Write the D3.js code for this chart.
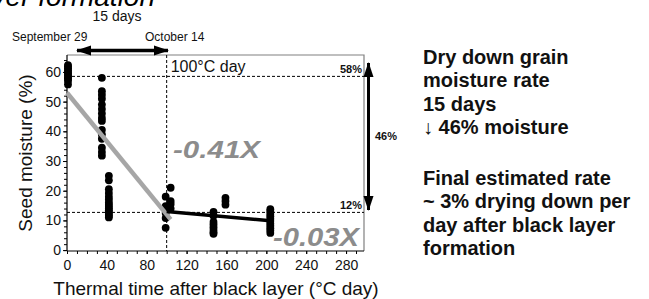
<!DOCTYPE html>
<html>
<head>
<meta charset="utf-8">
<script src="https://cdn.jsdelivr.net/npm/d3@7"></script>
<style>
  html, body { margin: 0; padding: 0; background: #fff; }
  svg { display: block; }
  text { font-family: "Liberation Sans", Arial, sans-serif; }
</style>
</head>
<body>
<div id="chart"></div>
<script>
/* Seed moisture dry-down after black layer */

// thermal time (°C day) of each sampling column
const sampleTimes = [1, 35, 42, 99, 104, 147, 159, 204];

// seed moisture (%) read for each column, same order as sampleTimes
const moistureT1 = [62.3, 61.8, 61.2, 60.6, 60.0, 59.4, 58.8, 58.2, 57.6, 57.0, 55.8];
const moistureT35 = [58.0, 53.5, 52.3, 51.0, 49.0, 47.5, 46.0, 44.5, 43.5, 40.5, 39.0, 37.5, 34.5, 33.0, 31.8];
const moistureT42 = [25.0, 23.5, 20.5, 19.2, 18.0, 17.0, 16.0, 15.3, 14.6, 14.0, 13.4, 12.8, 12.2, 11.6, 11.0];
const moistureT99 = [18.0, 14.8, 12.5, 10.8, 7.5];
const moistureT104 = [21.0, 16.5, 15.5, 14.0];
const moistureT147 = [12.9, 11.6, 9.5, 8.6, 7.7, 6.8, 6.0, 5.5];
const moistureT159 = [17.6, 16.5, 15.3];
const moistureT204 = [13.8, 13.0, 12.2, 11.4, 10.6, 9.8, 9.0, 8.2, 7.4, 6.6, 5.8];
const moistureCols = [moistureT1, moistureT35, moistureT42, moistureT99, moistureT104, moistureT147, moistureT159, moistureT204];

// fitted lines: [start, end] thermal time, slope, intercept
const fitEarlyRange = [0, 104];
const fitEarly = { slope: -0.41, intercept: 53 };
const fitLateRange = [100, 204];
const fitLate = { slope: -0.03, intercept: 16 };

// reference levels
const refLevels = [58.5, 12.7];
const refLabels = ['58%', '12%'];
const refTime = 100;

const xTicks = [0, 40, 80, 120, 160, 200, 240, 280];
const yTicks = [0, 10, 20, 30, 40, 50, 60];

const noteLines1 = ['Dry down grain', 'moisture rate', '15 days', '\u2193 46% moisture'];
const noteLines2 = ['Final estimated rate', '~ 3% drying down per', 'day after black layer', 'formation'];

/* ── Setup ─────────────────────────────────────────────────────────── */

const width = 649, height = 299;
const svg = d3.select('#chart').append('svg')
  .attr('width', width)
  .attr('height', height);

const x = d3.scaleLinear().domain([0, 298]).range([67, 364]);
const y = d3.scaleLinear().domain([-0.3, 65.7]).range([251, 55]);

// Arrow marker
const defs = svg.append('defs');
defs.append('marker')
  .attr('id', 'head')
  .attr('viewBox', '0 -5 15 10')
  .attr('refX', 14)
  .attr('refY', 0)
  .attr('markerUnits', 'userSpaceOnUse')
  .attr('markerWidth', 15)
  .attr('markerHeight', 11)
  .attr('orient', 'auto-start-reverse')
  .append('path')
  .attr('d', 'M0,-5L15,0L0,5Z')
  .attr('fill', '#000');

// cut-off title at the very top
svg.append('text')
  .attr('x', 155).attr('y', 6)
  .attr('text-anchor', 'end')
  .attr('font-family', '"Liberation Serif", "Times New Roman", serif')
  .attr('font-style', 'italic')
  .attr('font-size', 28)
  .text('layer formation');

/* ── Frame ─────────────────────────────────────────────────────────── */

svg.append('path')
  .attr('d', `M${x(0)},${y.range()[1]}H${x.range()[1]}V${y.range()[0]}`)
  .attr('fill', 'none')
  .attr('stroke', '#808080')
  .attr('stroke-width', 1.2);

// dashed reference lines
svg.selectAll('.ref')
  .data(refLevels)
  .join('line')
  .attr('x1', x(0)).attr('x2', x.range()[1])
  .attr('y1', d => y(d)).attr('y2', d => y(d))
  .attr('stroke', '#000')
  .attr('stroke-width', 1)
  .attr('stroke-dasharray', '3,2');

svg.append('line')
  .attr('x1', x(refTime)).attr('x2', x(refTime))
  .attr('y1', y.range()[1]).attr('y2', y.range()[0])
  .attr('stroke', '#000')
  .attr('stroke-width', 1)
  .attr('stroke-dasharray', '3,2');

/* ── Axes ──────────────────────────────────────────────────────────── */

const xAxisG = svg.append('g').attr('transform', `translate(0,${y.range()[0]})`);
xAxisG.call(d3.axisBottom(x).tickValues(d3.range(0, 291, 10)).tickSize(3).tickFormat(''));
xAxisG.append('g').call(d3.axisBottom(x).tickValues(xTicks).tickSize(3).tickPadding(6))
  .call(g => g.select('.domain').remove());

const yAxisG = svg.append('g').attr('transform', `translate(${x(0)},0)`);
yAxisG.call(d3.axisLeft(y).tickValues(d3.range(0, 65, 2)).tickSize(3).tickFormat(''));
yAxisG.append('g').call(d3.axisLeft(y).tickValues(yTicks).tickSize(4).tickPadding(2))
  .call(g => g.select('.domain').remove());

svg.selectAll('.domain').attr('stroke', '#000').attr('stroke-width', 1.2);
xAxisG.select('.domain').attr('d', `M${x(0)},0H${x.range()[1]}`);
yAxisG.select('.domain').attr('d', `M0,${y.range()[0]}V${y.range()[1]}`);
svg.selectAll('.tick line').attr('stroke', '#000');
svg.selectAll('.tick text')
  .attr('font-size', 14)
  .attr('fill', '#111')
  .attr('font-family', '"Liberation Sans", Arial, sans-serif');

svg.append('text')
  .attr('x', 216).attr('y', 295)
  .attr('text-anchor', 'middle')
  .attr('font-size', 19)
  .attr('fill', '#111')
  .text('Thermal time after black layer (\u00B0C day)');

svg.append('text')
  .attr('transform', 'translate(32,153) rotate(-90)')
  .attr('text-anchor', 'middle')
  .attr('font-size', 19)
  .attr('fill', '#111')
  .text('Seed moisture (%)');

/* ── Data points ───────────────────────────────────────────────────── */

const points = [];
sampleTimes.forEach((t, i) => {
  moistureCols[i].forEach(m => points.push({ t, m }));
});

svg.append('g')
  .selectAll('circle')
  .data(points)
  .join('circle')
  .attr('cx', d => x(d.t))
  .attr('cy', d => y(d.m))
  .attr('r', 3.9)
  .attr('fill', '#000');

/* ── Fit lines ─────────────────────────────────────────────────────── */

const line = d3.line().x(d => x(d[0])).y(d => y(d[1]));

svg.append('path')
  .datum(fitEarlyRange.map(t => [t, fitEarly.intercept + fitEarly.slope * t]))
  .attr('d', line)
  .attr('fill', 'none')
  .attr('stroke', '#a6a6a6')
  .attr('stroke-width', 4.5);

svg.append('path')
  .datum(fitLateRange.map(t => [t, fitLate.intercept + fitLate.slope * t]))
  .attr('d', line)
  .attr('fill', 'none')
  .attr('stroke', '#000')
  .attr('stroke-width', 3.5);

/* ── Annotations ───────────────────────────────────────────────────── */

svg.append('text')
  .attr('x', x(refTime) + 4).attr('y', 72)
  .attr('font-size', 16)
  .attr('fill', '#111')
  .text('100\u00B0C day');

svg.append('text')
  .attr('x', 173).attr('y', 158)
  .attr('font-size', 24)
  .attr('font-weight', 'bold')
  .attr('font-style', 'italic')
  .attr('fill', '#8c8c8c')
  .attr('textLength', 87)
  .attr('lengthAdjust', 'spacingAndGlyphs')
  .text('-0.41X');

svg.append('text')
  .attr('x', 273).attr('y', 246)
  .attr('font-size', 26)
  .attr('font-weight', 'bold')
  .attr('font-style', 'italic')
  .attr('fill', '#8c8c8c')
  .attr('textLength', 86)
  .attr('lengthAdjust', 'spacingAndGlyphs')
  .text('-0.03X');

svg.selectAll('.reflabel')
  .data(refLevels)
  .join('text')
  .attr('x', 362)
  .attr('y', d => y(d) - 3)
  .attr('text-anchor', 'end')
  .attr('font-size', 11)
  .attr('font-weight', 'bold')
  .attr('fill', '#111')
  .text((d, i) => refLabels[i]);

// vertical 46% arrow
svg.append('line')
  .attr('x1', 368.5).attr('x2', 368.5)
  .attr('y1', 63).attr('y2', 210)
  .attr('stroke', '#000')
  .attr('stroke-width', 3)
  .attr('marker-start', 'url(#head)')
  .attr('marker-end', 'url(#head)');

svg.append('text')
  .attr('x', 375).attr('y', 140)
  .attr('font-size', 11)
  .attr('font-weight', 'bold')
  .attr('fill', '#111')
  .text('46%');

// 15 days arrow
svg.append('line')
  .attr('x1', 77).attr('x2', 168)
  .attr('y1', 50.5).attr('y2', 50.5)
  .attr('stroke', '#000')
  .attr('stroke-width', 3.5)
  .attr('marker-start', 'url(#head)')
  .attr('marker-end', 'url(#head)');

svg.append('text')
  .attr('x', 117).attr('y', 21)
  .attr('text-anchor', 'middle')
  .attr('font-size', 14)
  .attr('fill', '#111')
  .text('15 days');

svg.append('text')
  .attr('x', 12).attr('y', 41)
  .attr('font-size', 12)
  .attr('fill', '#111')
  .text('September 29');

svg.append('text')
  .attr('x', 145).attr('y', 41)
  .attr('font-size', 12)
  .attr('fill', '#111')
  .text('October 14');

/* ── Side notes ────────────────────────────────────────────────────── */

const notes = svg.append('g')
  .attr('font-size', 20)
  .attr('font-weight', 'bold')
  .attr('fill', '#111');

notes.selectAll('.n1')
  .data(noteLines1)
  .join('text')
  .attr('x', 423)
  .attr('y', (d, i) => 64 + i * 23.3)
  .text(d => d);

notes.selectAll('.n2')
  .data(noteLines2)
  .join('text')
  .attr('x', 423)
  .attr('y', (d, i) => 185 + i * 23.3)
  .text(d => d);
</script>
</body>
</html>
